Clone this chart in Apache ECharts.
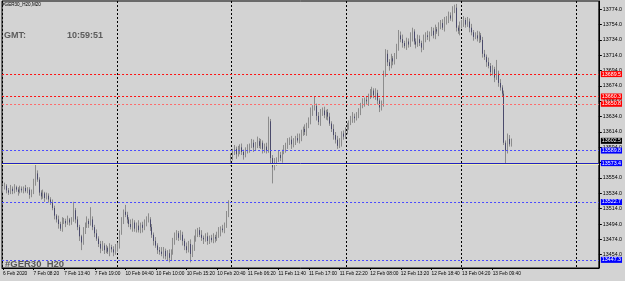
<!DOCTYPE html>
<html><head><meta charset="utf-8">
<script src="https://cdn.jsdelivr.net/npm/echarts@6/dist/echarts.min.js"></script>
<style>html,body{margin:0;padding:0;background:#d3d3d3}#c{width:625px;height:281px}</style>
</head><body><div id="c"></div>
<script>
const xLabels = ["6 Feb 2020","7 Feb 08:20","7 Feb 13:40","7 Feb 19:00","10 Feb 04:40","10 Feb 10:00","10 Feb 15:20","10 Feb 20:40","11 Feb 06:20","11 Feb 11:40","11 Feb 17:00","11 Feb 22:20","12 Feb 08:00","12 Feb 13:20","12 Feb 18:40","13 Feb 04:20","13 Feb 09:40"];
const labelEvery = 16;
const slotCount = 312;
const yTicks = [13454,13474,13494,13514,13534,13554,13574,13594,13614,13634,13654,13674,13694,13714,13734,13754,13774];
const closes = [
13541,13544,13538,13535,13540,13537,13542,13539,13536,13540,13538,13541,13537,13539,
13532,13535,13548,13560,
13552,13535,13530,13534,13528,13531,13526,13522,
13515,13505,13500,13494,13488,13497,
13498,13495,13500,13496,13499,13512,
13500,13490,13478,13470,
13485,13492,13498,13494,13500,
13490,13482,13475,13468,13462,
13466,13460,13463,13458,13464,13461,13457,13462,13465,
13482,13498,13510,13506,
13500,13494,13490,13496,13488,13492,
13486,13493,13489,13495,13498,13500,
13490,13480,13472,13466,13460,13458,
13455,13459,13452,13456,13450,13458,
13470,13478,13482,13476,13480,
13472,13465,13460,13468,13455,13462,
13475,13482,13486,13480,
13476,13474,13478,13472,13476,13473,13477,13475,
13480,13484,13488,13486,13492,
13505,13520,13582,
13588,13592,13585,13590,13594,13588,13584,13590,
13592,13596,13600,13594,13598,13602,13596,13600,13592,13595,
13590,13628,13580,13568,13575,
13578,13584,13580,13588,13592,
13596,13600,13604,13598,13602,13606,13603,13608,
13612,13618,13614,13622,13628,
13640,13645,13648,13635,13627,
13638,13642,13636,13640,13634,
13625,13618,13610,13604,13596,
13600,13612,13608,13615,
13622,13626,13630,13634,13632,13637,13640,
13648,13652,13656,13654,13660,13664,
13668,13662,13665,13655,13646,13650,
13690,13716,
13705,13700,13710,13706,13712,
13725,13740,13735,
13730,13726,13732,13728,
13738,13745,13732,13728,13735,
13730,13724,13736,13740,13738,
13742,13746,13740,13748,13745,
13752,13756,13750,13758,13762,
13766,13762,13772,13776,
13750,13746,
13752,13756,13760,13754,13758,
13750,13744,13738,13740,
13736,13740,13734,13716,
13712,13705,13700,
13692,13696,13685,
13690,13678,13672,13664,
13600,13590,13605,13598,13602.5
];
const gapOpens = {0: 13538, 119: 13572};
const upWick = [
3,4,2,3,5,3,4,2,3,4,3,2,4,3,3,4,5,11,4,3,
3,5,2,4,3,3,4,3,2,5,3,6,4,3,5,2,4,11,3,4,
3,2,5,4,6,3,16,4,3,5,3,4,6,3,4,2,5,3,4,6,
5,4,5,3,9,4,3,6,5,3,4,7,3,4,5,6,8,3,4,3,
5,3,4,6,5,3,4,5,3,6,5,4,3,6,4,3,5,4,6,5,
4,5,3,4,6,3,4,5,3,4,5,3,4,6,3,5,4,6,5,4,
4,5,3,6,4,5,3,4,6,3,5,4,3,6,4,5,3,4,5,6,
3,4,5,3,6,4,3,5,4,6,3,5,4,3,6,4,5,3,6,4,
5,6,4,12,3,5,6,4,5,3,4,5,3,6,4,5,6,3,4,5,
4,3,5,6,4,3,5,4,6,3,5,4,6,5,3,6,4,3,5,4,
6,5,4,6,3,5,4,7,5,6,3,5,4,6,5,3,4,6,5,3,
5,4,6,3,5,4,6,3,5,4,5,6,3,5,4,6,4,5,3,6,
4,5,3,6,4,5,3,4,6,5,3,4,5,3,6,4,5,3,18,4,
5,3,4,3,7,5,3
];
const downWick = [
3,2,4,3,2,4,3,3,5,2,3,4,2,3,5,3,2,4,3,4,
4,3,5,2,4,3,3,5,4,6,3,4,3,5,2,4,3,2,5,4,
6,10,3,4,3,5,2,4,5,3,4,6,3,5,4,3,6,4,5,3,
4,3,2,4,3,5,4,3,6,4,5,3,4,6,3,4,2,5,4,6,
3,5,4,3,6,4,5,6,3,4,3,5,4,3,6,5,4,3,11,4,
3,4,5,3,4,6,3,5,4,3,4,5,3,4,6,3,4,3,2,2,
5,4,6,3,5,4,6,3,4,5,3,6,4,5,3,4,6,5,4,3,
8,21,4,5,3,4,6,3,5,4,3,6,4,5,3,4,6,3,4,5,
3,4,5,3,6,4,5,3,4,6,5,3,4,6,5,4,3,5,4,3,
4,5,3,4,6,3,5,4,3,5,4,6,3,5,4,6,5,6,4,3,
4,5,6,3,5,4,3,5,4,6,3,5,4,3,6,4,5,3,4,6,
3,5,4,6,3,4,5,3,6,4,3,5,4,6,3,4,3,5,4,6,
3,5,4,3,6,4,5,3,4,6,3,5,4,6,3,5,4,6,3,5,
4,3,3,17,4,3,3
];
const redLevels = [13689.5, 13660.3, 13650.8];
const blueDotLevels = [13589.8, 13522.7, 13447.3];
const blueSolidLevel = 13573.4;
const bidPrice = 13602.5;
const yMin = 13436.7, yMax = 13784.8;

const candles = closes.map((c, i) => {
  const o = gapOpens[i] !== undefined ? gapOpens[i] : closes[i - 1];
  return [o, c, Math.min(o, c) - downWick[i], Math.max(o, c) + upWick[i]];
});
// bearish bodies drawn on top in navy (MT4 style: grey outline/wicks, navy bear body)
const bearBodies = candles.map(d => d[1] < d[0] ? [d[0], d[1], d[1], d[0]] : '-');
const cats = Array.from({length: slotCount}, (_, i) => i);

const labelFont = {fontSize: 5.3, fontFamily: 'Liberation Sans', color: '#fff', padding: [1, 1, 0, 1], distance: 2};
function lvlLabel(bg) {
  return Object.assign({show: true, position: 'end', formatter: p => p.value.toFixed(1), backgroundColor: bg}, labelFont);
}
const ml = [];
redLevels.forEach((v, i) => ml.push({yAxis: v, lineStyle: {color: i < 2 ? '#ff1010' : '#ff6a6a', type: [2, 2], width: 1}, label: lvlLabel('#ff0000')}));
blueDotLevels.forEach((v, i) => ml.push({yAxis: v, lineStyle: {color: '#4a4aff', type: [2, 2], width: 1}, label: lvlLabel('#0000ff')}));
ml.push({yAxis: blueSolidLevel - 1.3, lineStyle: {color: '#f2f2b0', type: 'solid', width: 1}, label: {show: false}});
ml.push({yAxis: blueSolidLevel, lineStyle: {color: '#2222c0', type: 'solid', width: 1}, label: lvlLabel('#0000ff')});
ml.push({yAxis: bidPrice, lineStyle: {color: 'rgba(0,0,0,0)', width: 0.01}, label: lvlLabel('#000000')});

const chart = echarts.init(document.getElementById('c'), null, {renderer: 'canvas'});
chart.setOption({
  animation: false,
  backgroundColor: '#d3d3d3',
  grid: {left: 1, right: 26, top: 1, bottom: 13, show: true, borderColor: '#000', borderWidth: 1, backgroundColor: 'transparent'},
  xAxis: {
    type: 'category', data: cats, boundaryGap: true,
    axisLine: {show: true, lineStyle: {color: '#000', width: 1}},
    axisTick: {show: true, alignWithLabel: true, length: 2, lineStyle: {color: '#000'},
      interval: i => i % labelEvery === 0 && i / labelEvery < xLabels.length},
    axisLabel: {show: true, color: '#000', fontSize: 4.8, fontFamily: 'Liberation Sans', align: 'left', margin: 3,
      interval: i => i % labelEvery === 0 && i / labelEvery < xLabels.length,
      formatter: (v, idx) => xLabels[idx / labelEvery] || ''},
    splitLine: {show: true, interval: i => i % 60 === 0, lineStyle: {color: '#000', type: [2, 2], width: 1}}
  },
  yAxis: {
    type: 'value', position: 'right', min: yMin, max: yMax, scale: true,
    axisLine: {show: true, lineStyle: {color: '#000', width: 1}},
    axisTick: {show: true, length: 3, customValues: yTicks, lineStyle: {color: '#000'}},
    axisLabel: {show: true, customValues: yTicks, color: '#000', fontSize: 5.3, fontFamily: 'Liberation Sans', margin: 4,
      formatter: v => v.toFixed(1)},
    splitLine: {show: false}
  },
  series: [{
    type: 'candlestick', data: candles, barWidth: 1,
    itemStyle: {color: '#8c8c8c', color0: '#8c8c8c', borderColor: '#8c8c8c', borderColor0: '#8c8c8c', borderWidth: 1},
    markLine: {silent: true, symbol: ['none', 'none'], animation: false, data: ml}
  }, {
    type: 'candlestick', data: bearBodies, barWidth: 1, z: 3,
    itemStyle: {color: '#1e1e56', color0: '#1e1e56', borderColor: '#1e1e56', borderColor0: '#1e1e56', borderWidth: 0.6}
  }],
  graphic: [
    {type: 'text', left: 2, top: 2, z: 10, style: {text: '#GER30_H20,M20', font: '4.6px Liberation Sans', fill: '#000'}},
    {type: 'text', left: 4, top: 31, z: 10, style: {text: 'GMT:', font: 'bold 9px Liberation Sans', fill: '#5c5c5c'}},
    {type: 'text', left: 67, top: 31, z: 10, style: {text: '10:59:51', font: 'bold 9px Liberation Sans', fill: '#5c5c5c'}},
    {type: 'text', left: 5, top: 259, z: 10, style: {text: '#GER30_H20', font: 'bold 9.5px Liberation Sans', fill: '#585858'}}
  ]
});
</script></body></html>
